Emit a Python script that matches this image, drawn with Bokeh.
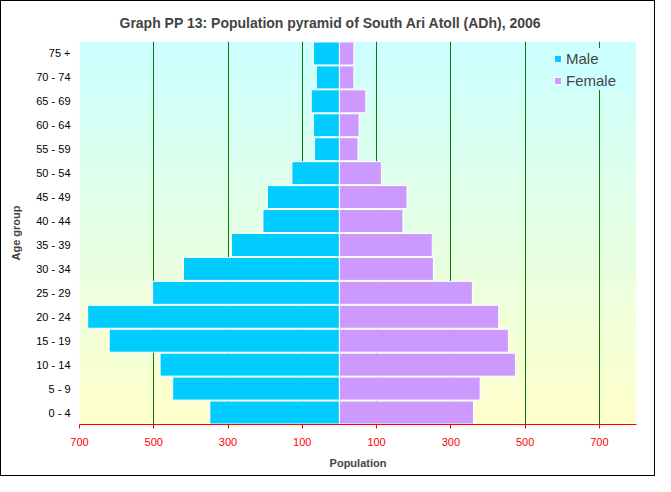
import numpy as np
from bokeh.plotting import figure
from bokeh.models import FixedTicker, Range1d, Legend, LegendItem, ColumnDataSource
from bokeh.embed import file_html
from bokeh.resources import INLINE

# ---- data (bottom to top) ----
age_groups = ["0 - 4", "5 - 9", "10 - 14", "15 - 19", "20 - 24", "25 - 29", "30 - 34",
              "35 - 39", "40 - 44", "45 - 49", "50 - 54", "55 - 59", "60 - 64",
              "65 - 69", "70 - 74", "75 +"]
male = [349, 449, 483, 620, 678, 503, 420, 291, 206, 194, 128, 67, 70, 76, 62, 70]
female = [361, 379, 474, 455, 429, 358, 253, 250, 171, 182, 113, 50, 53, 71, 39, 39]
x_ticks = [-700, -500, -300, -100, 100, 300, 500, 700]
x_tick_labels = ["700", "500", "300", "100", "100", "300", "500", "700"]

FONT = "Liberation Sans"
idx = list(range(len(age_groups)))

src = ColumnDataSource(dict(y=idx, male_left=[-m for m in male], female=female))

p = figure(width=655, height=476, output_backend="svg", toolbar_location=None,
           x_range=Range1d(-700, 800), y_range=Range1d(-0.5, len(age_groups) - 0.5),
           min_border_left=78, min_border_right=20, min_border_top=39, min_border_bottom=53,
           title="Graph PP 13: Population pyramid of South Ari Atoll (ADh), 2006")

p.outline_line_color = None
p.background_fill_color = "white"
p.border_fill_color = "white"
p.styles = {"border": "1px solid black", "box-sizing": "border-box"}

# gradient background (cyan top -> light yellow bottom)
n = 256
t = np.linspace(0.0, 1.0, n)
img = np.empty((n, 1), dtype=np.uint32)
view = img.view(dtype=np.uint8).reshape((n, 1, 4))
view[:, 0, 0] = (255 - 51 * t).astype(np.uint8)
view[:, 0, 1] = 255
view[:, 0, 2] = (204 + 51 * t).astype(np.uint8)
view[:, 0, 3] = 255
p.image_rgba(image=[img], x=-700, y=-0.5, dw=1500, dh=len(age_groups), level="image")

r_m = p.hbar(y="y", left="male_left", right=0, height=0.96, source=src,
             fill_color="#00ccff", line_color="white", line_width=1)
r_f = p.hbar(y="y", left=0, right="female", height=0.96, source=src,
             fill_color="#cc99ff", line_color="white", line_width=1)

# title
p.title.text_font = FONT
p.title.text_font_size = "14px"
p.title.text_font_style = "bold"
p.title.align = "left"
p.title.offset = 40
p.title.standoff = 22

# x axis
xa = p.xaxis[0]
xa.ticker = FixedTicker(ticks=x_ticks)
xa.major_label_overrides = {t_: l for t_, l in zip(x_ticks, x_tick_labels)}
xa.axis_line_color = "#ff0000"
xa.major_tick_line_color = "#ff0000"
xa.major_tick_out = 4
xa.major_tick_in = 0
xa.minor_tick_line_color = None
xa.major_label_text_color = "#ff0000"
xa.major_label_text_font = FONT
xa.major_label_text_font_size = "11px"
xa.major_label_standoff = 9
xa.axis_label = "Population"
xa.axis_label_text_font = FONT
xa.axis_label_text_font_size = "11px"
xa.axis_label_text_font_style = "bold"
xa.axis_label_standoff = 8

# y axis
ya = p.yaxis[0]
ya.ticker = FixedTicker(ticks=idx)
ya.major_label_overrides = {i: g for i, g in zip(idx, age_groups)}
ya.axis_line_color = None
ya.major_tick_line_color = None
ya.minor_tick_line_color = None
ya.major_tick_out = 0
ya.major_tick_in = 0
ya.major_label_text_font = FONT
ya.major_label_text_font_size = "11px"
ya.major_label_text_color = "black"
ya.major_label_standoff = 9
ya.axis_label = "Age group"
ya.axis_label_text_font = FONT
ya.axis_label_text_font_size = "11px"
ya.axis_label_text_font_style = "bold"
ya.axis_label_standoff = 11

# grid
p.xgrid.ticker = FixedTicker(ticks=x_ticks)
p.xgrid.grid_line_color = "#008000"
p.xgrid.grid_line_width = 1
p.ygrid.grid_line_color = None

legend = Legend(items=[LegendItem(label="Male", renderers=[r_m]),
                       LegendItem(label="Female", renderers=[r_f])],
                location="top_right")
legend.label_text_font = FONT
legend.label_text_font_size = "15px"
legend.glyph_width = 9
legend.glyph_height = 9
legend.label_height = 20
legend.label_width = 63
legend.label_standoff = 4
legend.spacing = 2
legend.padding = 4
legend.margin = 7
legend.background_fill_color = "#ccffff"
legend.background_fill_alpha = 1
legend.border_line_color = None
p.add_layout(legend)

open("out.html", "w").write(file_html(p, INLINE))
